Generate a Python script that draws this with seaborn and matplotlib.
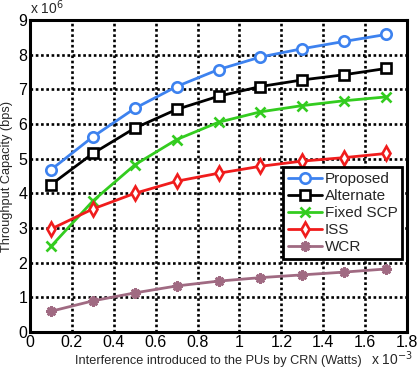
import numpy as np
import pandas as pd
import seaborn as sns
import matplotlib
matplotlib.use('Agg')
import matplotlib.pyplot as plt

interference = [0.1, 0.3, 0.5, 0.7, 0.9, 1.1, 1.3, 1.5, 1.7]
proposed = [4.68, 5.63, 6.45, 7.08, 7.57, 7.93, 8.17, 8.38, 8.58]
alternate = [4.25, 5.15, 5.88, 6.42, 6.80, 7.08, 7.27, 7.42, 7.60]
fixed_scp = [2.47, 3.78, 4.82, 5.55, 6.05, 6.35, 6.53, 6.67, 6.78]
iss = [2.97, 3.55, 4.00, 4.35, 4.58, 4.78, 4.93, 5.03, 5.15]
wcr = [0.60, 0.90, 1.13, 1.33, 1.47, 1.57, 1.65, 1.73, 1.82]

series_names = ['Proposed', 'Alternate', 'Fixed SCP', 'ISS', 'WCR']
series_values = [proposed, alternate, fixed_scp, iss, wcr]
x_ticks = [0, 0.2, 0.4, 0.6, 0.8, 1, 1.2, 1.4, 1.6, 1.8]
y_ticks = [0, 1, 2, 3, 4, 5, 6, 7, 8, 9]

sns.set_style('white')
plt.rcParams['font.family'] = ['Liberation Sans', 'DejaVu Sans']

colors = ['#3d82ef', '#000000', '#33cc1f', '#f01c1c', '#a06a82']
markers = ['o', 's', 'x', 'd', (8, 2, 0)]
faces = ['white', 'white', 'none', 'white', '#a06a82']

df = pd.DataFrame({
    'x': interference * len(series_names),
    'y': np.concatenate(series_values),
    'series': np.repeat(series_names, len(interference)),
})

fig = plt.figure(figsize=(4.17, 3.69), dpi=100)
ax = fig.add_axes([0.072, 0.100, 0.904, 0.846])

for name, c, m, f in zip(series_names, colors, markers, faces):
    sub = df[df['series'] == name]
    sns.lineplot(data=sub, x='x', y='y', ax=ax, color=c, marker=m, label=name,
                 linewidth=2, markersize=7.5, markerfacecolor=f,
                 markeredgecolor=c, markeredgewidth=1.9)

ax.set_xlim(0, 1.8)
ax.set_ylim(0, 9)
ax.set_xticks(x_ticks)
ax.set_xticklabels([f'{t:g}' for t in x_ticks])
ax.set_yticks(y_ticks)
ax.set_yticklabels([str(t) for t in y_ticks])
ax.tick_params(direction='in', length=4, width=1.2, labelsize=11.5, colors='black', pad=2)
ax.grid(True, color='black', linestyle=(0, (1, 1)), linewidth=1.9)
for s in ax.spines.values():
    s.set_linewidth(2.2)
    s.set_color('black')

ax.set_xlabel('Interference introduced to the PUs by CRN (Watts)', fontsize=9.2, labelpad=4)
ax.set_ylabel('Throughput Capacity (bps)', fontsize=9.2, labelpad=4)
ax.text(0, 1.008, r'x 10$^{6}$', transform=ax.transAxes, fontsize=10, ha='left', va='bottom')
fig.text(0.89, 0.012, r'x 10$^{-3}$', fontsize=10, ha='left', va='baseline')

leg = ax.legend(loc='lower right', bbox_to_anchor=(0.995, 0.225), fontsize=11,
                frameon=True, fancybox=False, borderpad=0.3, labelspacing=0.2,
                handlelength=2.2, handletextpad=0.2, borderaxespad=0.2)
leg.get_frame().set_edgecolor('black')
leg.get_frame().set_linewidth(2)
leg.get_frame().set_alpha(1)

fig.savefig('out.png', dpi=100)
